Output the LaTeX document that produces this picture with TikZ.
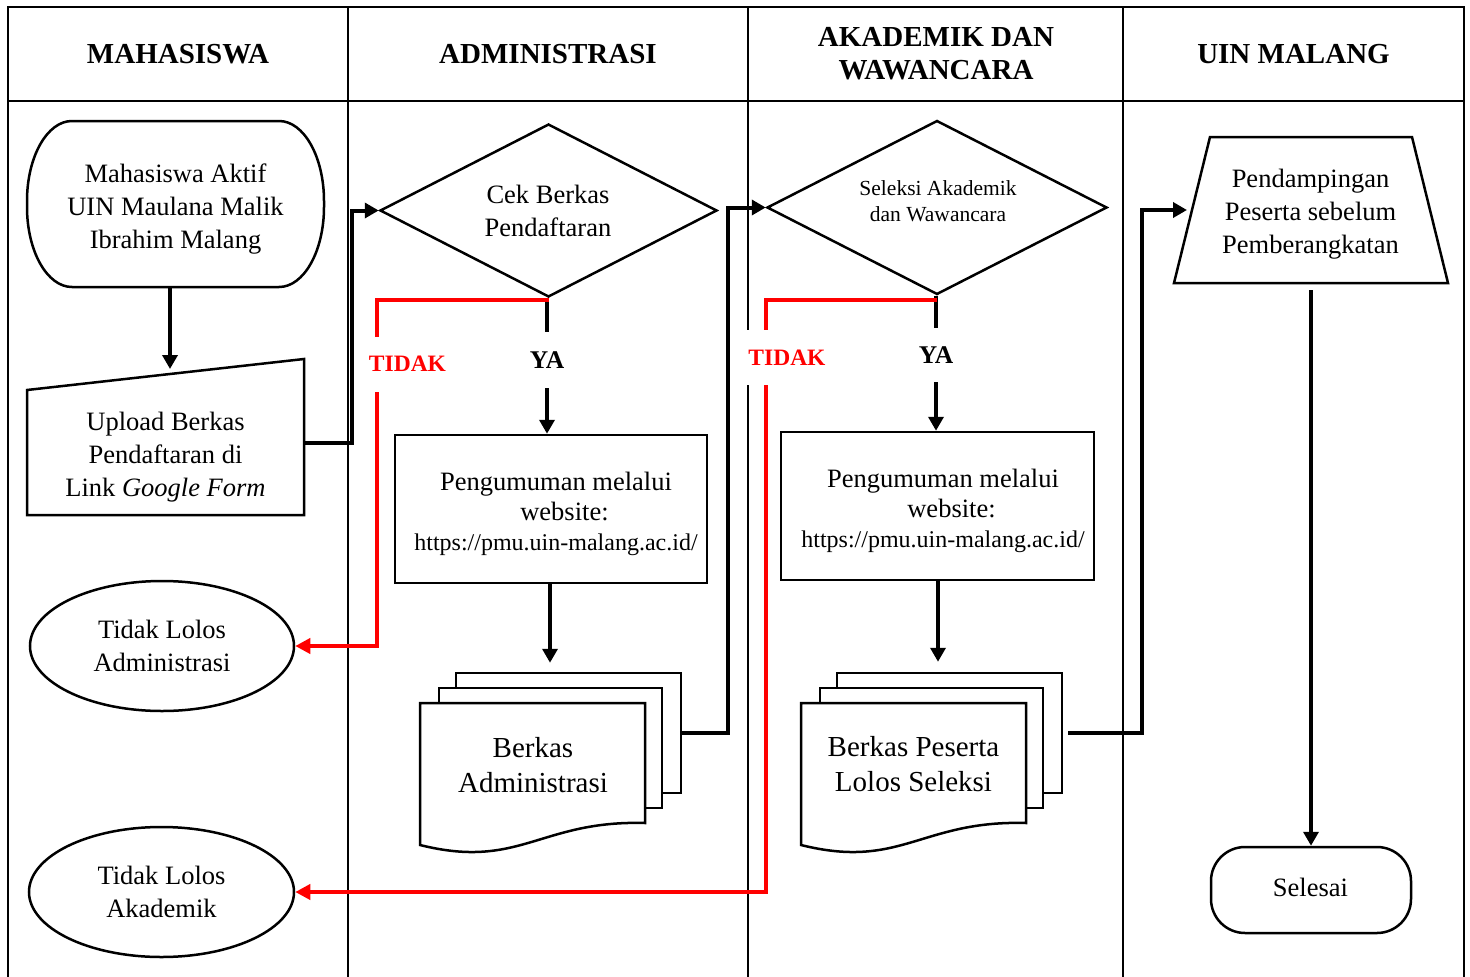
\documentclass[tikz,border=0pt]{standalone}
\usepackage{fontspec}
\setmainfont{Liberation Serif}
\usetikzlibrary{arrows.meta,shapes.geometric,calc}
\newcommand{\fsA}{\fontsize{26.5}{33}\selectfont}
\newcommand{\fsR}{\fontsize{26.5}{30}\selectfont}
\newcommand{\fsU}{\fontsize{24}{30}\selectfont}
\newcommand{\fsD}{\fontsize{29}{35}\selectfont}
\newcommand{\fsS}{\fontsize{21.5}{26}\selectfont}
\begin{document}
\begin{tikzpicture}[x=1pt,y=1pt,
  frame/.style={line width=2pt},
  shp/.style={draw, line width=2.5pt, fill=white},
  txt/.style={align=center, inner sep=0pt},
  hdr/.style={align=center, inner sep=0pt, font=\fontsize{29}{33}\selectfont\bfseries},
  plain/.style={line width=4pt},
  conn/.style={line width=4pt, -{Triangle[width=15pt,length=14pt]}},
  redconn/.style={line width=4pt, red, -{Triangle[width=15pt,length=15pt]}},
  tidak/.style={fill=white, text=red, inner xsep=4pt, minimum height=55pt, font=\fontsize{23.5}{28}\selectfont\bfseries},
  yalbl/.style={inner sep=0pt, font=\fontsize{25.5}{30}\selectfont\bfseries}]
\useasboundingbox (0,0) rectangle (1470,-977);
\fill[white] (0,0) rectangle (1470,-977);

% frame
\draw[frame] (8,-980) -- (8,-7) -- (1464,-7) -- (1464,-980);
\draw[frame] (8,-101) -- (1464,-101);
\foreach \x in {348,748,1123} \draw[frame] (\x,-7) -- (\x,-980);

% headers
\node[hdr] (h1) at (178,-54) {MAHASISWA};
\node[hdr] (h2) at (548,-54) {ADMINISTRASI};
\node[hdr] (h3) at (936,-53.5) {AKADEMIK DAN\\WAWANCARA};
\node[hdr] (h4) at (1293.5,-54) {UIN MALANG};

% terminal start
\draw[shp] (72,-121) -- (279,-121) arc[start angle=90,end angle=0,x radius=45,y radius=80]
  -- (324,-207) arc[start angle=0,end angle=-90,x radius=45,y radius=80]
  -- (72,-287) arc[start angle=-90,end angle=-180,x radius=45,y radius=80]
  -- (27,-201) arc[start angle=180,end angle=90,x radius=45,y radius=80] -- cycle;
\node[txt, font=\fsA] (t1) at (175.5,-209) {Mahasiswa Aktif\\UIN Maulana Malik\\Ibrahim Malang};
\coordinate (t1S) at (170,-287);

% manual input
\draw[shp] (27,-390) -- (304,-359) -- (304,-515) -- (27,-515) -- cycle;
\node[txt, font=\fsA] (up) at (165.5,-457) {Upload Berkas\\Pendaftaran di\\Link \textit{Google Form}};
\coordinate (upN) at (170,-369);
\coordinate (upE) at (304,-443);

% ellipses
\node[ellipse, shp, inner sep=0pt, minimum width=264, minimum height=130, align=center, font=\fsA] (e1) at (162,-646) {Tidak Lolos\\Administrasi};
\node[ellipse, shp, inner sep=0pt, minimum width=265, minimum height=130, align=center, font=\fsA] (e2) at (161.5,-892) {Tidak Lolos\\Akademik};

% diamonds
\node[diamond, shp, inner sep=0pt, aspect=2, minimum width=337, minimum height=173] (d1) at (548.5,-210.5) {};
\node[txt, font=\fsA] (d1t) at (548,-210.5) {Cek Berkas\\Pendaftaran};
\node[diamond, shp, inner sep=0pt, aspect=2, minimum width=340, minimum height=174] (d2) at (937,-207.5) {};
\node[txt, font=\fsS] (d2t) at (938,-201.5) {Seleksi Akademik\\dan Wawancara};

% rectangles
\node[shp, inner sep=0pt, minimum width=312, minimum height=148] (r1) at (551,-509) {};
\node[txt, font=\fsR] (r1t) at (556,-514)
  {Pengumuman melalui\\\hspace*{17pt}website:\\{\fsU https://pmu.uin-malang.ac.id/}};
\node[shp, inner sep=0pt, minimum width=313, minimum height=148] (r2) at (937.5,-506) {};
\node[txt, font=\fsR] (r2t) at (943,-511)
  {Pengumuman melalui\\\hspace*{17pt}website:\\{\fsU https://pmu.uin-malang.ac.id/}};

% document stack 1
\node[shp, inner sep=0pt, minimum width=225, minimum height=120] (doc1b) at (568.5,-733) {};
\node[shp, inner sep=0pt, minimum width=223, minimum height=120] (doc1m) at (550.5,-748) {};
\draw[shp] (420,-703) -- (645,-703) -- (645,-823) .. controls (540,-820) and (520,-870) .. (420,-845) -- cycle;
\node[txt, font=\fsD] (doc1) at (533,-765) {Berkas\\Administrasi};

% document stack 2
\node[shp, inner sep=0pt, minimum width=225, minimum height=120] (doc2b) at (949.5,-733) {};
\node[shp, inner sep=0pt, minimum width=223, minimum height=120] (doc2m) at (931.5,-748) {};
\draw[shp] (801,-703) -- (1026,-703) -- (1026,-823) .. controls (921,-820) and (901,-870) .. (801,-845) -- cycle;
\node[txt, font=\fsD] (doc2) at (913.5,-764) {Berkas Peserta\\Lolos Seleksi};

% trapezoid
\draw[shp] (1210,-137) -- (1412,-137) -- (1448,-283) -- (1174,-283) -- cycle;
\node[txt, font=\fsA] (tz) at (1310.5,-214) {Pendampingan\\Peserta sebelum\\Pemberangkatan};
\coordinate (tzS) at (1311,-290);
\coordinate (tzW) at (1187,-210);

% end terminal
\node[shp, rounded corners=34pt, minimum width=200, minimum height=86] (sel) at (1311,-890) {};
\node[txt, font=\fsA] (selt) at (1310.5,-887) {Selesai};

% labels
\node[yalbl] (ya1) at (547,-360) {YA};
\node[yalbl] (ya2) at (936,-355) {YA};
\coordinate (ya1N) at (547,-332);
\coordinate (ya1S) at (547,-388);
\coordinate (ya2N) at (936,-328);
\coordinate (ya2S) at (936,-382);
\coordinate (c1) at (377,-400);
\coordinate (c2) at (766,-500);
\coordinate (a1) at (550,0);
\coordinate (a2) at (938,0);

% connectors
\draw[conn] (t1S) -- (upN);
\draw[conn] (upE) -| ([xshift=-27pt]d1.west) -- (d1.west);
\draw[plain] (d1.south -| ya1N) -- (ya1N);
\draw[conn] (ya1S) -- (ya1S |- r1.north);
\draw[redconn] ([yshift=-1.5pt]d1.south) -| (c1) |- (e1.east);
\draw[conn] (r1.south -| a1) -- ([yshift=9pt]doc1b.north -| a1);
\draw[conn] (doc1b.east) -| ([xshift=-38pt]d2.west) -- (d2.west);
\draw[plain] (d2.south -| ya2N) -- (ya2N);
\draw[conn] (ya2S) -- (ya2S |- r2.north);
\draw[redconn] ([yshift=-4pt]d2.south) -| (c2) |- (e2.east);
\draw[conn] (r2.south -| a2) -- ([yshift=10pt]doc2b.north -| a2);
\draw[conn] ([xshift=5pt]doc2b.east) -| ([xshift=-45pt]tzW) -- (tzW);
\draw[conn] (tzS) -- (sel.north);

% TIDAK labels (white boxes cover lines)
\node[tidak] (tk1) at (407.5,-364) {TIDAK};
\node[tidak] (tk2) at (787,-357.5) {TIDAK};
\end{tikzpicture}
\end{document}
